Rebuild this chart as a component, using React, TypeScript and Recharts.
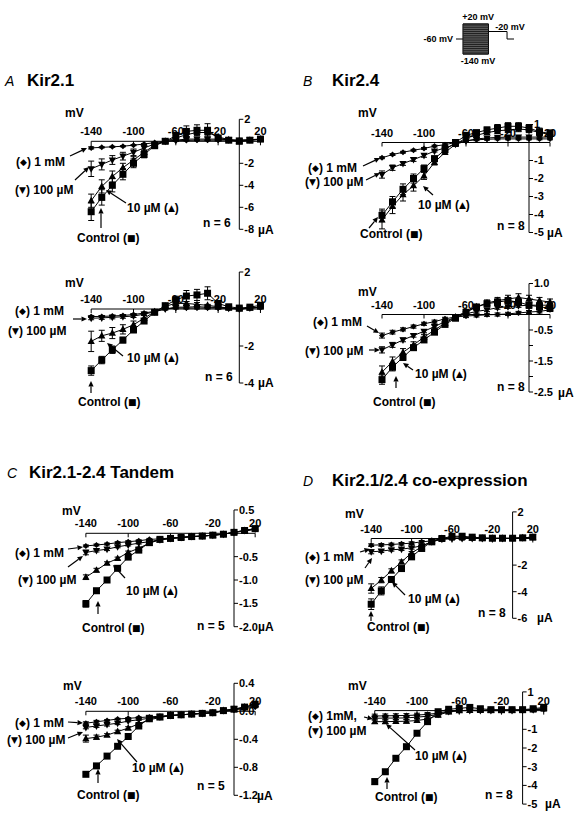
import React from "react";
import {
  ComposedChart, Line, XAxis, YAxis, ErrorBar,
  ReferenceLine, ReferenceDot, ReferenceArea,
} from "recharts";

const FONT = '"Liberation Sans", Arial, Helvetica, sans-serif';

// membrane potential (mV) of every test pulse
const mv = [-140, -130, -120, -110, -100, -90, -80, -70, -60, -50, -40, -30, -20, -10, 0, 10, 20];
const xTicks = [-140, -100, -60, -20, 20];

// A  Kir2.1, upper (µA)
const aUpCtrl = [-6.4, -5.1, -4.0, -3.0, -2.0, -1.2, -0.4, 0.0, 0.5, 0.9, 1.0, 1.0, 0.3, 0.1, 0.0, 0.1, 0.2];
const aUpCtrlErr = [0.8, 0.7, 0.6, 0.5, 0.4, 0.3, 0.2, 0.1, 0.3, 0.5, 0.5, 0.6, 0.2, 0.1, 0.1, 0.1, 0.1];
const aUp10 = [-5.4, -4.1, -3.2, -2.4, -1.7, -1.0, -0.35, 0.0, 0.3, 0.6, 0.8, 0.8, 0.4, 0.15, 0.0, 0.1, 0.2];
const aUp10Err = [0.6, 0.6, 0.5, 0.4, 0.3, 0.2, 0.1, 0.1, 0.2, 0.3, 0.3, 0.3, 0.1, 0.1, 0.1, 0.1, 0.1];
const aUp100 = [-2.5, -2.1, -1.7, -1.35, -1.0, -0.6, -0.25, 0.0, 0.1, 0.2, 0.2, 0.2, 0.2, 0.15, 0.1, 0.15, 0.2];
const aUp100Err = [0.7, 0.5, 0.4, 0.35, 0.3, 0.2, 0.1, 0.1, 0.1, 0.1, 0.1, 0.1, 0.1, 0.1, 0.1, 0.1, 0.1];
const aUp1mM = [-0.6, -0.55, -0.5, -0.45, -0.35, -0.25, -0.12, 0.0, 0.05, 0.08, 0.1, 0.1, 0.1, 0.1, 0.1, 0.12, 0.15];
const aUp1mMErr = [0.1, 0.05, 0.05, 0.05, 0.05, 0.05, 0.05, 0.05, 0.05, 0.05, 0.05, 0.05, 0.05, 0.05, 0.05, 0.05, 0.05];

// A  Kir2.1, lower
const aLoCtrl = [-3.33, -2.76, -2.2, -1.68, -1.13, -0.65, -0.18, 0.18, 0.49, 0.7, 0.76, 0.85, 0.3, 0.12, 0.05, 0.1, 0.2];
const aLoCtrlErr = [0.25, 0.2, 0.2, 0.15, 0.15, 0.1, 0.1, 0.1, 0.2, 0.3, 0.3, 0.35, 0.15, 0.05, 0.05, 0.05, 0.05];
const aLo10 = [-1.75, -1.45, -1.3, -1.1, -0.85, -0.5, -0.15, 0.15, 0.3, 0.3, 0.25, 0.2, 0.12, 0.05, 0.0, 0.05, 0.1];
const aLo10Err = [0.55, 0.3, 0.3, 0.25, 0.2, 0.15, 0.1, 0.1, 0.1, 0.1, 0.1, 0.05, 0.05, 0.05, 0.05, 0.05, 0.05];
const aLo100 = [-0.5, -0.48, -0.45, -0.42, -0.38, -0.28, -0.15, 0.0, 0.1, 0.1, 0.12, 0.1, 0.08, 0.04, 0.0, 0.05, 0.1];
const aLo100Err = [0.08, 0.08, 0.08, 0.08, 0.08, 0.05, 0.05, 0.05, 0.05, 0.05, 0.05, 0.05, 0.05, 0.05, 0.05, 0.05, 0.05];
const aLo1mM = [-0.41, -0.4, -0.38, -0.35, -0.3, -0.22, -0.12, 0.0, 0.05, 0.05, 0.05, 0.05, 0.05, 0.03, 0.0, 0.05, 0.08];
const aLo1mMErr = [0.05, 0.05, 0.05, 0.05, 0.05, 0.05, 0.05, 0.05, 0.05, 0.05, 0.05, 0.05, 0.05, 0.05, 0.05, 0.05, 0.05];

// B  Kir2.4, upper
const bUpCtrl = [-4.05, -3.3, -2.6, -2.0, -1.45, -0.9, -0.4, 0.0, 0.4, 0.55, 0.7, 0.8, 0.9, 0.9, 0.8, 0.6, 0.5];
const bUpCtrlErr = [0.35, 0.3, 0.3, 0.25, 0.2, 0.15, 0.1, 0.1, 0.1, 0.1, 0.15, 0.2, 0.2, 0.2, 0.2, 0.2, 0.2];
const bUp10 = [-4.3, -3.55, -2.9, -2.4, -1.85, -1.1, -0.55, -0.1, 0.25, 0.4, 0.55, 0.65, 0.7, 0.75, 0.7, 0.55, 0.45];
const bUp10Err = [0.5, 0.4, 0.35, 0.3, 0.2, 0.15, 0.1, 0.1, 0.1, 0.1, 0.1, 0.15, 0.15, 0.15, 0.15, 0.15, 0.15];
const bUp100 = [-1.78, -1.4, -1.17, -0.95, -0.72, -0.48, -0.3, -0.1, 0.08, 0.2, 0.25, 0.28, 0.3, 0.3, 0.3, 0.3, 0.3];
const bUp100Err = [0.2, 0.15, 0.1, 0.1, 0.1, 0.05, 0.05, 0.05, 0.05, 0.05, 0.05, 0.05, 0.05, 0.05, 0.05, 0.05, 0.05];
const bUp1mM = [-0.85, -0.67, -0.54, -0.43, -0.33, -0.2, -0.12, 0.0, 0.1, 0.15, 0.18, 0.2, 0.2, 0.2, 0.2, 0.2, 0.2];
const bUp1mMErr = [0.05, 0.05, 0.05, 0.05, 0.05, 0.05, 0.05, 0.05, 0.05, 0.05, 0.05, 0.05, 0.05, 0.05, 0.05, 0.05, 0.05];

// B  Kir2.4, lower
const bLoCtrl = [-2.1, -1.7, -1.38, -1.07, -0.82, -0.57, -0.32, -0.12, 0.07, 0.24, 0.35, 0.4, 0.45, 0.4, 0.3, 0.25, 0.2];
const bLoCtrlErr = [0.15, 0.12, 0.1, 0.08, 0.06, 0.05, 0.05, 0.05, 0.05, 0.05, 0.08, 0.1, 0.1, 0.1, 0.1, 0.1, 0.1];
const bLo10 = [-1.86, -1.52, -1.22, -0.98, -0.73, -0.5, -0.28, -0.08, 0.1, 0.25, 0.37, 0.45, 0.5, 0.55, 0.5, 0.45, 0.4];
const bLo10Err = [0.2, 0.15, 0.12, 0.1, 0.08, 0.06, 0.05, 0.05, 0.05, 0.08, 0.1, 0.1, 0.12, 0.12, 0.12, 0.1, 0.1];
const bLo100 = [-1.14, -0.98, -0.82, -0.68, -0.54, -0.39, -0.23, -0.08, 0.02, 0.1, 0.15, 0.22, 0.25, 0.28, 0.3, 0.3, 0.3];
const bLo100Err = [0.1, 0.08, 0.06, 0.05, 0.05, 0.05, 0.05, 0.05, 0.05, 0.05, 0.05, 0.05, 0.05, 0.05, 0.05, 0.05, 0.05];
const bLo1mM = [-0.68, -0.57, -0.48, -0.39, -0.3, -0.23, -0.14, -0.08, -0.05, -0.03, -0.01, 0.0, 0.02, 0.05, 0.08, 0.1, 0.15];
const bLo1mMErr = [0.08, 0.06, 0.05, 0.05, 0.05, 0.05, 0.05, 0.05, 0.05, 0.05, 0.05, 0.05, 0.05, 0.05, 0.05, 0.05, 0.05];

// C  Kir2.1-2.4 tandem, upper
const cUpCtrl = [-1.51, -1.23, -1.0, -0.75, -0.51, -0.36, -0.2, -0.13, -0.11, -0.09, -0.07, -0.06, -0.04, -0.02, 0.02, 0.06, 0.1];
const cUpCtrlErr = [0.07, 0.05, 0.04, 0.03, 0.03, 0.02, 0.02, 0.02, 0.02, 0.02, 0.02, 0.02, 0.02, 0.02, 0.02, 0.02, 0.02];
const cUp10 = [-0.94, -0.79, -0.64, -0.54, -0.41, -0.32, -0.21, -0.14, -0.11, -0.09, -0.07, -0.06, -0.04, -0.02, 0.02, 0.06, 0.1];
const cUp10Err = [0.05, 0.04, 0.03, 0.03, 0.03, 0.02, 0.02, 0.02, 0.02, 0.02, 0.02, 0.02, 0.02, 0.02, 0.02, 0.02, 0.02];
const cUp100 = [-0.41, -0.37, -0.34, -0.29, -0.25, -0.21, -0.18, -0.14, -0.11, -0.09, -0.07, -0.06, -0.04, -0.02, 0.02, 0.06, 0.1];
const cUp100Err = [0.05, 0.03, 0.03, 0.02, 0.02, 0.02, 0.02, 0.02, 0.02, 0.02, 0.02, 0.02, 0.02, 0.02, 0.02, 0.02, 0.02];
const cUp1mM = [-0.27, -0.25, -0.23, -0.2, -0.18, -0.16, -0.13, -0.12, -0.1, -0.09, -0.07, -0.06, -0.04, -0.02, 0.02, 0.05, 0.08];
const cUp1mMErr = [0.02, 0.02, 0.02, 0.02, 0.02, 0.02, 0.02, 0.02, 0.02, 0.02, 0.02, 0.02, 0.02, 0.02, 0.02, 0.02, 0.02];

// C  Kir2.1-2.4 tandem, lower
const cLoCtrl = [-0.9, -0.78, -0.64, -0.5, -0.36, -0.21, -0.1, -0.08, -0.06, -0.05, -0.04, -0.03, -0.02, 0.01, 0.03, 0.06, 0.1];
const cLoCtrlErr = [0.02, 0.02, 0.02, 0.02, 0.02, 0.02, 0.01, 0.01, 0.01, 0.01, 0.01, 0.01, 0.01, 0.01, 0.01, 0.01, 0.01];
const cLo10 = [-0.39, -0.37, -0.34, -0.29, -0.24, -0.18, -0.12, -0.09, -0.06, -0.05, -0.04, -0.03, -0.02, 0.01, 0.03, 0.06, 0.1];
const cLo10Err = [0.05, 0.03, 0.02, 0.02, 0.02, 0.02, 0.01, 0.01, 0.01, 0.01, 0.01, 0.01, 0.01, 0.01, 0.01, 0.01, 0.01];
const cLo100 = [-0.23, -0.21, -0.19, -0.17, -0.14, -0.12, -0.1, -0.08, -0.06, -0.05, -0.04, -0.03, -0.02, 0.01, 0.03, 0.05, 0.08];
const cLo100Err = [0.02, 0.02, 0.02, 0.02, 0.01, 0.01, 0.01, 0.01, 0.01, 0.01, 0.01, 0.01, 0.01, 0.01, 0.01, 0.01, 0.01];
const cLo1mM = [-0.17, -0.15, -0.13, -0.11, -0.1, -0.09, -0.08, -0.07, -0.06, -0.05, -0.04, -0.03, -0.02, 0.0, 0.02, 0.04, 0.06];
const cLo1mMErr = [0.02, 0.02, 0.01, 0.01, 0.01, 0.01, 0.01, 0.01, 0.01, 0.01, 0.01, 0.01, 0.01, 0.01, 0.01, 0.01, 0.01];

// D  Kir2.1/2.4 co-expression, upper
const dUpCtrl = [-4.94, -3.94, -3.08, -2.26, -1.38, -0.75, -0.25, 0.0, 0.17, 0.17, 0.1, 0.05, 0.02, 0.02, 0.02, 0.05, 0.1];
const dUpCtrlErr = [0.4, 0.3, 0.2, 0.15, 0.1, 0.1, 0.1, 0.1, 0.1, 0.1, 0.1, 0.1, 0.1, 0.1, 0.1, 0.1, 0.1];
const dUp10 = [-3.76, -3.13, -2.43, -1.76, -1.08, -0.63, -0.18, 0.0, 0.1, 0.1, 0.05, 0.02, 0.02, 0.02, 0.02, 0.05, 0.1];
const dUp10Err = [0.35, 0.2, 0.15, 0.15, 0.1, 0.1, 0.1, 0.1, 0.1, 0.1, 0.1, 0.1, 0.1, 0.1, 0.1, 0.1, 0.1];
const dUp100 = [-1.0, -0.95, -0.85, -0.8, -0.7, -0.55, -0.25, -0.05, 0.0, 0.0, 0.0, 0.0, 0.0, 0.0, 0.0, 0.05, 0.1];
const dUp100Err = [0.15, 0.1, 0.1, 0.1, 0.1, 0.1, 0.1, 0.1, 0.1, 0.1, 0.1, 0.1, 0.1, 0.1, 0.1, 0.1, 0.1];
const dUp1mM = [-0.5, -0.48, -0.45, -0.4, -0.35, -0.25, -0.18, -0.05, 0.0, 0.0, 0.0, 0.0, 0.0, 0.0, 0.0, 0.05, 0.1];
const dUp1mMErr = [0.1, 0.1, 0.1, 0.1, 0.1, 0.1, 0.1, 0.1, 0.1, 0.1, 0.1, 0.1, 0.1, 0.1, 0.1, 0.1, 0.1];

// D  Kir2.1/2.4 co-expression, lower
const dLoCtrl = [-3.8, -3.27, -2.55, -1.93, -1.21, -0.59, -0.06, 0.07, 0.12, 0.17, 0.1, 0.05, 0.05, 0.05, 0.05, 0.1, 0.17];
const dLoCtrlErr = [0.15, 0.1, 0.1, 0.1, 0.1, 0.1, 0.1, 0.1, 0.1, 0.1, 0.1, 0.1, 0.1, 0.1, 0.1, 0.1, 0.1];
const dLo10 = [-0.59, -0.59, -0.58, -0.57, -0.53, -0.45, -0.24, -0.07, 0.0, 0.02, 0.02, 0.02, 0.02, 0.02, 0.02, 0.05, 0.1];
const dLo10Err = [0.1, 0.1, 0.1, 0.1, 0.1, 0.1, 0.1, 0.1, 0.1, 0.1, 0.1, 0.1, 0.1, 0.1, 0.1, 0.1, 0.1];
const dLo100 = [-0.41, -0.4, -0.4, -0.39, -0.35, -0.3, -0.2, -0.05, 0.0, 0.0, 0.0, 0.0, 0.0, 0.0, 0.02, 0.05, 0.1];
const dLo100Err = [0.1, 0.1, 0.1, 0.1, 0.1, 0.1, 0.1, 0.1, 0.1, 0.1, 0.1, 0.1, 0.1, 0.1, 0.1, 0.1, 0.1];
const dLo1mM = [-0.29, -0.28, -0.27, -0.26, -0.24, -0.2, -0.14, -0.02, 0.0, 0.0, 0.0, 0.0, 0.0, 0.0, 0.0, 0.04, 0.08];
const dLo1mMErr = [0.1, 0.1, 0.1, 0.1, 0.1, 0.1, 0.1, 0.1, 0.1, 0.1, 0.1, 0.1, 0.1, 0.1, 0.1, 0.1, 0.1];

// voltage protocol inset
const protoSteps = [20, 10, 0, -10, -20, -30, -40, -50, -60, -70, -80, -90, -100, -110, -120, -130, -140];
const protoHold = [{ t: 0, v: -60 }, { t: 12, v: -60 }];
const protoTail = [{ t: 56, v: -20 }, { t: 88, v: -20 }, { t: 88, v: -60 }, { t: 100, v: -60 }];

type Shape = "square" | "up" | "down" | "diamond";
const SERIES: { key: string; shape: Shape }[] = [
  { key: "mm1", shape: "diamond" },
  { key: "t100", shape: "down" },
  { key: "t10", shape: "up" },
  { key: "ctrl", shape: "square" },
];

interface Note { x: number; y: number; s: string }
interface Panel {
  box: [number, number, number, number];
  x0: number; pxMv: number; y0: number; pxUa: number;
  yTicks: number[]; yLabels: string[];
  series: number[][];
  notes: Note[];
  arrows: number[][];
}

const panels: Panel[] = [
  {
    box: [0, 104, 290, 146], x0: 239.3, pxMv: 1.058, y0: 141.3, pxUa: 11,
    yTicks: [2, 0, -2, -4, -6, -8], yLabels: ["2", "", "-2", "-4", "-6", "-8"],
    series: [aUpCtrl, aUpCtrlErr, aUp10, aUp10Err, aUp100, aUp100Err, aUp1mM, aUp1mMErr],
    notes: [
      { x: 65, y: 113, s: "mV" }, { x: 16, y: 162, s: "(◆) 1 mM" }, { x: 15, y: 190, s: "(▼) 100 µM" },
      { x: 127, y: 208, s: "10 µM (▲)" }, { x: 77, y: 238, s: "Control (■)" }, { x: 203, y: 223, s: "n = 6" },
      { x: 258, y: 230, s: "µA" },
    ],
    arrows: [[70, 156, 87, 148], [75, 180, 89, 167], [126, 203, 106, 190], [101, 228, 101, 208]],
  },
  {
    box: [0, 260, 290, 155], x0: 239.3, pxMv: 1.058, y0: 309, pxUa: 18.5,
    yTicks: [2, 0, -2, -4], yLabels: ["2", "", "-2", "-4"],
    series: [aLoCtrl, aLoCtrlErr, aLo10, aLo10Err, aLo100, aLo100Err, aLo1mM, aLo1mMErr],
    notes: [
      { x: 65, y: 283, s: "mV" }, { x: 15, y: 311, s: "(◆) 1 mM" }, { x: 8, y: 331, s: "(▼) 100 µM" },
      { x: 127, y: 358, s: "10 µM (▲)" }, { x: 78, y: 402, s: "Control (■)" }, { x: 205, y: 377, s: "n = 6" },
      { x: 258, y: 383, s: "µA" },
    ],
    arrows: [[73, 319, 87, 319], [123, 356, 107, 343], [91, 393, 91, 381]],
  },
  {
    box: [290, 104, 289, 146], x0: 529, pxMv: 1.05, y0: 142.5, pxUa: 18,
    yTicks: [1, 0, -1, -2, -3, -4, -5], yLabels: ["1", "", "-1", "-2", "-3", "-4", "-5"],
    series: [bUpCtrl, bUpCtrlErr, bUp10, bUp10Err, bUp100, bUp100Err, bUp1mM, bUp1mMErr],
    notes: [
      { x: 358, y: 113, s: "mV" }, { x: 308, y: 168, s: "(◆) 1 mM" }, { x: 305, y: 182, s: "(▼) 100 µM" },
      { x: 418, y: 205, s: "10 µM (▲)" }, { x: 360, y: 234, s: "Control (■)" }, { x: 497, y: 226, s: "n = 8" },
      { x: 547, y: 233, s: "µA" },
    ],
    arrows: [[363, 166, 380, 158], [366, 180, 380, 173], [433, 195, 423, 186], [369, 228, 378, 217]],
  },
  {
    box: [290, 260, 289, 155], x0: 529, pxMv: 1.05, y0: 314.5, pxUa: 31,
    yTicks: [1, 0.5, 0, -0.5, -1, -1.5, -2, -2.5], yLabels: ["1.0", "", "", "-0.5", "", "-1.5", "", "-2.5"],
    series: [bLoCtrl, bLoCtrlErr, bLo10, bLo10Err, bLo100, bLo100Err, bLo1mM, bLo1mMErr],
    notes: [
      { x: 358, y: 292, s: "mV" }, { x: 313, y: 322, s: "(◆) 1 mM" }, { x: 305, y: 351, s: "(▼) 100 µM" },
      { x: 415, y: 374, s: "10 µM (▲)" }, { x: 373, y: 402, s: "Control (■)" }, { x: 497, y: 387, s: "n = 8" },
      { x: 558, y: 393, s: "µA" },
    ],
    arrows: [[367, 326, 379, 333], [369, 350, 380, 350], [413, 370, 403, 363], [396, 388, 396, 376]],
  },
  {
    box: [0, 495, 290, 150], x0: 234, pxMv: 1.058, y0: 533.3, pxUa: 46.7,
    yTicks: [0.5, 0, -0.5, -1, -1.5, -2], yLabels: ["0.5", "", "-0.5", "-1.0", "-1.5", "-2.0"],
    series: [cUpCtrl, cUpCtrlErr, cUp10, cUp10Err, cUp100, cUp100Err, cUp1mM, cUp1mMErr],
    notes: [
      { x: 62, y: 511, s: "mV" }, { x: 15, y: 553, s: "(◆) 1 mM" }, { x: 18, y: 580, s: "(▼) 100 µM" },
      { x: 126, y: 591, s: "10 µM (▲)" }, { x: 82, y: 628, s: "Control (■)" }, { x: 197, y: 626, s: "n = 5" },
      { x: 258, y: 627, s: "µA" },
    ],
    arrows: [[68, 549, 83, 547], [68, 567, 83, 556], [125, 578, 113, 565], [98, 614, 98, 601]],
  },
  {
    box: [0, 665, 290, 145], x0: 234, pxMv: 1.058, y0: 711.3, pxUa: 70,
    yTicks: [0.4, 0, -0.4, -0.8, -1.2], yLabels: ["0.4", "0.0", "-0.4", "-0.8", "-1.2"],
    series: [cLoCtrl, cLoCtrlErr, cLo10, cLo10Err, cLo100, cLo100Err, cLo1mM, cLo1mMErr],
    notes: [
      { x: 63, y: 686, s: "mV" }, { x: 15, y: 723, s: "(◆) 1 mM" }, { x: 7, y: 740, s: "(▼) 100 µM" },
      { x: 132, y: 768, s: "10 µM (▲)" }, { x: 77, y: 795, s: "Control (■)" }, { x: 197, y: 786, s: "n = 5" },
      { x: 257, y: 796, s: "µA" },
    ],
    arrows: [[68, 722, 83, 723], [68, 738, 83, 732], [137, 762, 117, 739], [98, 783, 98, 769]],
  },
  {
    box: [290, 495, 289, 150], x0: 512.6, pxMv: 1.01, y0: 538.5, pxUa: 13.3,
    yTicks: [2, 0, -2, -4, -6], yLabels: ["2", "", "-2", "-4", "-6"],
    series: [dUpCtrl, dUpCtrlErr, dUp10, dUp10Err, dUp100, dUp100Err, dUp1mM, dUp1mMErr],
    notes: [
      { x: 345, y: 514, s: "mV" }, { x: 305, y: 557, s: "(◆) 1 mM" }, { x: 305, y: 580, s: "(▼) 100 µM" },
      { x: 408, y: 599, s: "10 µM (▲)" }, { x: 367, y: 627, s: "Control (■)" }, { x: 478, y: 613, s: "n = 8" },
      { x: 537, y: 618, s: "µA" },
    ],
    arrows: [[360, 552, 370, 549], [365, 568, 372, 558], [405, 595, 392, 582], [371, 621, 371, 611]],
  },
  {
    box: [290, 665, 289, 145], x0: 522.6, pxMv: 1.056, y0: 710.6, pxUa: 18.7,
    yTicks: [1, 0, -1, -2, -3, -4, -5], yLabels: ["1", "", "-1", "-2", "-3", "-4", "-5"],
    series: [dLoCtrl, dLoCtrlErr, dLo10, dLo10Err, dLo100, dLo100Err, dLo1mM, dLo1mMErr],
    notes: [
      { x: 348, y: 686, s: "mV" }, { x: 308, y: 716, s: "(◆) 1mM," }, { x: 308, y: 731, s: "(▼) 100 µM" },
      { x: 415, y: 756, s: "10 µM (▲)" }, { x: 375, y: 797, s: "Control (■)" }, { x: 485, y: 795, s: "n = 8" },
      { x: 545, y: 804, s: "µA" },
    ],
    arrows: [[364, 717, 373, 719], [415, 750, 386, 724], [387, 789, 387, 777]],
  },
];

const titles = [
  { x: 5, y: 86, tag: "A", name: "Kir2.1" },
  { x: 303, y: 86, tag: "B", name: "Kir2.4" },
  { x: 7, y: 478, tag: "C", name: "Kir2.1-2.4 Tandem" },
  { x: 303, y: 486, tag: "D", name: "Kir2.1/2.4 co-expression" },
];

function rows(s: number[][]) {
  return mv.map((v, i) => ({
    mv: v,
    ctrl: s[0][i], ctrlErr: s[1][i],
    t10: s[2][i], t10Err: s[3][i],
    t100: s[4][i], t100Err: s[5][i],
    mm1: s[6][i], mm1Err: s[7][i],
  }));
}

function Marker({ cx, cy, shape }: { cx: number; cy: number; shape: Shape }) {
  if (cx == null || cy == null) return null;
  if (shape === "square") return <rect x={cx - 3.5} y={cy - 3.5} width={7} height={7} fill="#000" />;
  if (shape === "up") return <polygon points={`${cx},${cy - 4} ${cx + 3.6},${cy + 2.6} ${cx - 3.6},${cy + 2.6}`} fill="#000" />;
  if (shape === "down") return <polygon points={`${cx},${cy + 4} ${cx + 3.6},${cy - 2.6} ${cx - 3.6},${cy - 2.6}`} fill="#000" />;
  return <polygon points={`${cx},${cy - 3} ${cx + 3},${cy} ${cx},${cy + 3} ${cx - 3},${cy}`} fill="#000" />;
}

const tickFont = { fontSize: 11, fontWeight: "bold", fill: "#000" };

function IVPanel({ p }: { p: Panel }) {
  const [L, T, W, H] = p.box;
  const xDom = [(L - p.x0) / p.pxMv, (L + W - p.x0) / p.pxMv];
  const yDom = [(p.y0 - (T + H)) / p.pxUa, (p.y0 - T) / p.pxUa];
  const tx = 4 / p.pxMv;
  const ty = 4 / p.pxUa;
  const data = rows(p.series);
  const yTop = p.yTicks[0];
  const yBot = p.yTicks[p.yTicks.length - 1];

  return (
    <div style={{ position: "absolute", left: L, top: T }}>
      <ComposedChart width={W} height={H} data={data} margin={{ top: 0, right: 0, bottom: 0, left: 0 }}>
        <XAxis dataKey="mv" type="number" domain={xDom} allowDataOverflow hide />
        <YAxis type="number" domain={yDom} allowDataOverflow hide />

        <ReferenceLine segment={[{ x: -140, y: 0 }, { x: 20, y: 0 }]} stroke="#000" strokeWidth={1} />
        {xTicks.map((v) => (
          <ReferenceLine key={"xt" + v} segment={[{ x: v, y: 0 }, { x: v, y: -ty }]} stroke="#000" />
        ))}
        {xTicks.map((v) => (
          <ReferenceDot key={"xl" + v} x={v} y={0} r={0} fill="none" stroke="none"
            label={{ value: String(v), position: "top", offset: 6, ...tickFont }} />
        ))}

        <ReferenceLine segment={[{ x: 0, y: yTop }, { x: 0, y: yBot }]} stroke="#000" strokeWidth={1} />
        {p.yTicks.map((v) => (
          <ReferenceLine key={"yt" + v} segment={[{ x: 0, y: v }, { x: tx, y: v }]} stroke="#000" />
        ))}
        {p.yTicks.map((v, i) => p.yLabels[i] ? (
          <ReferenceDot key={"yl" + v} x={0} y={v} r={0} fill="none" stroke="none"
            label={{ value: p.yLabels[i], position: "right", offset: 5, ...tickFont }} />
        ) : null)}

        {SERIES.map((s) => (
          <Line
            key={s.key}
            dataKey={s.key}
            stroke="#000"
            strokeWidth={1}
            isAnimationActive={false}
            activeDot={false}
            legendType="none"
            dot={(d: any) => <Marker key={s.key + d.index} cx={d.cx} cy={d.cy} shape={s.shape} />}
          >
            <ErrorBar dataKey={s.key + "Err"} width={3} stroke="#000" strokeWidth={1} direction="y" isAnimationActive={false} />
          </Line>
        ))}
      </ComposedChart>
    </div>
  );
}

function ProtocolInset() {
  // box 420,4 120x66 ; time 0 at x=456 (0.58 px/unit) ; 0 mV at y=27.75 (0.1875 px/mV)
  const L = 420, T = 4, W = 120, H = 66;
  const xDom = [(L - 456) / 0.58, (L + W - 456) / 0.58];
  const yDom = [(27.75 - (T + H)) / 0.1875, (27.75 - T) / 0.1875];
  const f = { fontSize: 9, fontWeight: "bold", fill: "#000" };
  return (
    <div style={{ position: "absolute", left: L, top: T }}>
      <ComposedChart width={W} height={H} margin={{ top: 0, right: 0, bottom: 0, left: 0 }}>
        <XAxis dataKey="t" type="number" domain={xDom} allowDataOverflow hide />
        <YAxis type="number" domain={yDom} allowDataOverflow hide />
        <ReferenceArea x1={12} x2={56} y1={-140} y2={20} fill="#777" fillOpacity={1} stroke="#000" strokeWidth={1} />
        {protoSteps.map((v) => (
          <ReferenceLine key={v} segment={[{ x: 12, y: v }, { x: 56, y: v }]} stroke="#222" strokeWidth={1.2} />
        ))}
        <Line data={protoHold} dataKey="v" stroke="#000" strokeWidth={1} dot={false} isAnimationActive={false} />
        <Line data={protoTail} dataKey="v" stroke="#000" strokeWidth={1} dot={false} isAnimationActive={false} />
        <ReferenceDot x={38} y={20} r={0} fill="none" stroke="none" label={{ value: "+20 mV", position: "top", offset: 4, ...f }} />
        <ReferenceDot x={38} y={-140} r={0} fill="none" stroke="none" label={{ value: "-140 mV", position: "bottom", offset: 4, ...f }} />
        <ReferenceDot x={0} y={-60} r={0} fill="none" stroke="none" label={{ value: "-60 mV", position: "left", offset: 3, ...f }} />
        <ReferenceDot x={93} y={-20} r={0} fill="none" stroke="none" label={{ value: "-20 mV", position: "top", offset: 2, ...f }} />
      </ComposedChart>
    </div>
  );
}

function NoteText({ n }: { n: Note }) {
  const parts = n.s.split(/([◆▼▲■])/);
  return (
    <text x={n.x} y={n.y} dominantBaseline="central" fontSize={12} fontWeight="bold" fill="#000">
      {parts.map((part, i) =>
        /[◆▼▲■]/.test(part)
          ? <tspan key={i} fontSize={9} fontFamily='"DejaVu Sans", sans-serif'>{part}</tspan>
          : <tspan key={i}>{part}</tspan>
      )}
    </text>
  );
}

function Arrow({ a }: { a: number[] }) {
  const [x1, y1, x2, y2] = a;
  const ang = Math.atan2(y2 - y1, x2 - x1);
  const len = 5.5, hw = 2.6;
  const bx = x2 - len * Math.cos(ang), by = y2 - len * Math.sin(ang);
  const px = -Math.sin(ang) * hw, py = Math.cos(ang) * hw;
  return (
    <g>
      <line x1={x1} y1={y1} x2={bx} y2={by} stroke="#000" strokeWidth={1.2} />
      <polygon points={`${x2},${y2} ${bx + px},${by + py} ${bx - px},${by - py}`} fill="#000" />
    </g>
  );
}

export default function App() {
  return (
    <div style={{ position: "absolute", left: 0, top: 0, width: 579, height: 814, background: "#fff", fontFamily: FONT, overflow: "hidden" }}>
      <ProtocolInset />
      {panels.map((p, i) => <IVPanel key={i} p={p} />)}
      <svg width={579} height={814} style={{ position: "absolute", left: 0, top: 0, pointerEvents: "none" }}>
        {titles.map((t) => (
          <g key={t.tag}>
            <text x={t.x} y={t.y} fontSize={14} fontStyle="italic" fill="#000">{t.tag}</text>
            <text x={t.x + (t.tag === "A" || t.tag === "C" ? 22 : 29)} y={t.y} fontSize={17} fontWeight="bold" fill="#000">{t.name}</text>
          </g>
        ))}
        {panels.map((p, i) => (
          <g key={i}>
            {p.notes.map((n, j) => <NoteText key={j} n={n} />)}
            {p.arrows.map((a, j) => <Arrow key={j} a={a} />)}
          </g>
        ))}
      </svg>
    </div>
  );
}
